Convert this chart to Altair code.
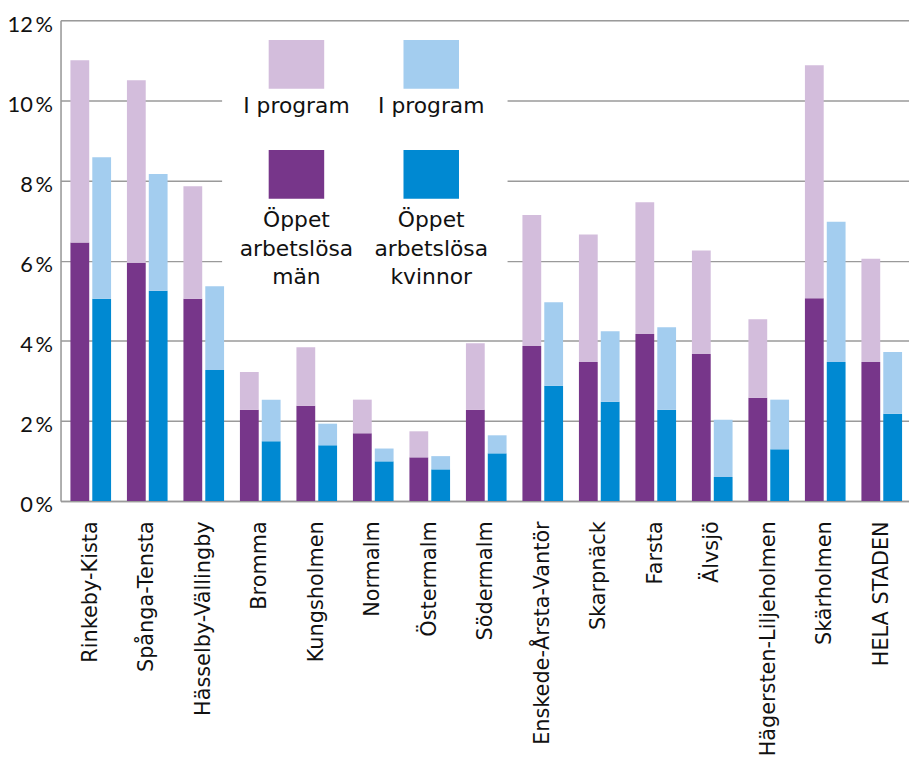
import altair as alt
import pandas as pd

districts = ["Rinkeby-Kista", "Spånga-Tensta", "Hässelby-Vällingby", "Bromma",
             "Kungsholmen", "Normalm", "Östermalm", "Södermalm",
             "Enskede-Årsta-Vantör", "Skarpnäck", "Farsta", "Älvsjö",
             "Hägersten-Liljeholmen", "Skärholmen", "HELA STADEN"]
men_open = [6.45, 5.95, 5.05, 2.28, 2.38, 1.69, 1.09, 2.28, 3.87, 3.47, 4.17, 3.67, 2.58, 5.06, 3.47]
men_program = [4.55, 4.55, 2.81, 0.94, 1.46, 0.84, 0.65, 1.66, 3.27, 3.18, 3.29, 2.58, 1.96, 5.82, 2.58]
women_open = [5.05, 5.25, 3.27, 1.49, 1.39, 0.99, 0.79, 1.19, 2.88, 2.48, 2.28, 0.60, 1.29, 3.47, 2.18]
women_program = [3.53, 2.91, 2.09, 1.04, 0.54, 0.32, 0.33, 0.45, 2.08, 1.76, 2.06, 1.43, 1.24, 3.50, 1.54]

keys = ["män_öppet", "män_program", "kvinnor_öppet", "kvinnor_program"]
colors = ["#77368a", "#d3bddc", "#0089d2", "#a3cdef"]

rows = []
for i, d in enumerate(districts):
    rows.append(dict(district=d, sex="män", key="män_öppet", ord=1, value=men_open[i]))
    rows.append(dict(district=d, sex="män", key="män_program", ord=2, value=men_program[i]))
    rows.append(dict(district=d, sex="kvinnor", key="kvinnor_öppet", ord=1, value=women_open[i]))
    rows.append(dict(district=d, sex="kvinnor", key="kvinnor_program", ord=2, value=women_program[i]))
df = pd.DataFrame(rows)

W, H = 856, 485
FONT = "DejaVu Sans"
YFONT = "Lato"
GRID = "#9a9a9a"

bars = alt.Chart(df).mark_bar().encode(
    x=alt.X("district:N", sort=districts, title=None,
            scale=alt.Scale(paddingInner=0.2807, paddingOuter=0.149, align=0.588),
            axis=alt.Axis(labelAngle=-90, labelFontSize=21, labelPadding=20, labelLimit=0,
                          ticks=False, domainColor=GRID, domainWidth=1.5, grid=False,
                          labelColor="#111111", labelFont=FONT)),
    xOffset=alt.XOffset("sex:N", sort=["män", "kvinnor"],
                        scale=alt.Scale(paddingInner=0.14, paddingOuter=0)),
    y=alt.Y("value:Q", stack="zero", title=None,
            scale=alt.Scale(domain=[0, 12], nice=False),
            axis=alt.Axis(values=[0, 2, 4, 6, 8, 10, 12],
                          labelExpr="datum.value + '\u2009%'",
                          labelFontSize=22, labelPadding=8, labelOffset=4,
                          ticks=False, domainColor=GRID, domainWidth=1.5,
                          grid=True, gridColor=GRID, gridWidth=1.5,
                          labelColor="#111111", labelFont=YFONT)),
    color=alt.Color("key:N", scale=alt.Scale(domain=keys, range=colors), legend=None),
    order=alt.Order("ord:Q"),
)

one = pd.DataFrame({"a": [0]})

box = alt.Chart(one).mark_rect(color="white").encode(
    x=alt.value(163), x2=alt.value(451), y=alt.value(2), y2=alt.value(283))

def swatch(c, x0, y0):
    return alt.Chart(one).mark_rect(color=c).encode(
        x=alt.value(x0), x2=alt.value(x0 + 56), y=alt.value(y0), y2=alt.value(y0 + 49))

def label(t, xc, yb):
    return alt.Chart(one).mark_text(text=t, font=FONT, fontSize=22, color="#111111",
                                    align="center", baseline="alphabetic").encode(
        x=alt.value(xc), y=alt.value(yb))

legend_layers = [
    swatch(colors[1], 210, 20), swatch(colors[3], 346, 20),
    swatch(colors[0], 210, 131), swatch(colors[2], 346, 131),
    label("I program", 238, 94), label("I program", 374, 94),
    label("Öppet", 238, 209), label("arbetslösa", 238, 238), label("män", 238, 266),
    label("Öppet", 374, 209), label("arbetslösa", 374, 238), label("kvinnor", 374, 266),
]

chart = alt.layer(box, bars, *legend_layers).properties(
    width=W, height=H,
    autosize=alt.AutoSizeParams(type="none"),
    padding={"left": 53, "top": 9, "right": 0, "bottom": 268},
).configure_view(stroke=None).configure(font=FONT)

chart.save("out.html", embed_options={"renderer": "svg", "actions": False})
